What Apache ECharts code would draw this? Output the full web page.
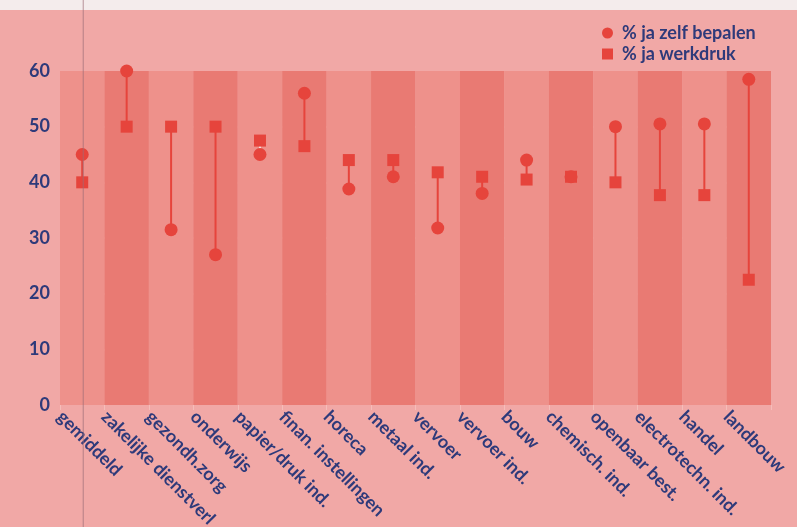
<!DOCTYPE html>
<html>
<head>
<meta charset="utf-8">
<script src="https://cdn.jsdelivr.net/npm/echarts@6/dist/echarts.min.js"></script>
<style>
  html, body { margin: 0; padding: 0; background: #f1a8a6; }
  #chart { width: 797px; height: 527px; }
</style>
</head>
<body>
<div id="chart"></div>
<script>
// Sectors (gemiddeld = average over all sectors)
const sectors = [
  'gemiddeld', 'zakelijke dienstverl', 'gezondh.zorg', 'onderwijs',
  'papier/druk ind.', 'finan. instellingen', 'horeca', 'metaal ind.',
  'vervoer', 'vervoer ind.', 'bouw', 'chemisch. ind.',
  'openbaar best.', 'electrotechn. ind.', 'handel', 'landbouw'
];

// % of workers who can decide their own pace of work
const zelfBepalen = [45, 60, 31.5, 27, 45, 56, 38.8, 41, 31.8, 38, 44, 41, 50, 50.5, 50.5, 58.5];

// % of workers reporting high work pressure
const werkdruk = [40, 50, 50, 50, 47.5, 46.5, 44, 44, 41.8, 41, 40.5, 41, 40, 37.7, 37.7, 22.5];

const yTicks = { min: 0, max: 60, step: 10 };

// Sectors whose connector is drawn in a pale tone
const paleConnector = ['papier/druk ind.'];

const RED = '#e6443c';
const NAVY = '#2e3a7a';
const FONT = 'Lato';

const chart = echarts.init(document.getElementById('chart'), null, { renderer: 'canvas' });

const connectorData = sectors.map((s, i) => [i, zelfBepalen[i], werkdruk[i]]);

const option = {
  backgroundColor: '#f1a8a6',
  animation: false,
  textStyle: { fontFamily: FONT },
  legend: {
    orient: 'vertical',
    left: 597,
    top: 19,
    itemWidth: 11,
    itemHeight: 11,
    itemGap: 3,
    textStyle: { color: NAVY, fontSize: 18, fontFamily: FONT, fontWeight: 'bold', padding: [0, 0, 0, 4] },
    data: [
      { name: '% ja zelf bepalen', icon: 'circle' },
      { name: '% ja werkdruk', icon: 'rect' }
    ]
  },
  grid: { left: 60, right: 26, top: 71, bottom: 122, containLabel: false, outerBoundsMode: 'none' },
  xAxis: [
    {
      type: 'category',
      data: sectors,
      boundaryGap: true,
      axisLine: { show: false },
      axisTick: { show: true, length: 5, lineStyle: { color: '#f5bdb9' }, interval: 0 },
      axisLabel: { show: false },
      splitArea: { show: true, interval: 0, areaStyle: { color: ['#ee918b', '#e97a73'] } },
      splitLine: { show: false }
    },
    {
      // label axis: names start at the left edge of each sector column
      type: 'category',
      data: sectors.concat(['']),
      boundaryGap: false,
      position: 'bottom',
      axisLine: { show: false },
      axisTick: { show: false },
      splitLine: { show: false },
      axisLabel: {
        interval: 0,
        rotate: -45,
        margin: 9,
        color: NAVY,
        fontSize: 18,
        fontWeight: 'bold',
        fontFamily: FONT
      }
    }
  ],
  yAxis: {
    type: 'value',
    min: yTicks.min,
    max: yTicks.max,
    interval: yTicks.step,
    axisLine: { show: false },
    axisTick: { show: false },
    axisLabel: { color: NAVY, fontSize: 18, fontFamily: FONT, fontWeight: 'bold', margin: 10 },
    splitLine: {
      show: true,
      showMinLine: false,
      showMaxLine: false,
      lineStyle: { color: '#f5b9b5', width: 1.5 }
    }
  },
  series: [
    {
      type: 'custom',
      name: 'verbinding',
      xAxisIndex: 0,
      z: 2,
      data: connectorData,
      renderItem: function (params, api) {
        const i = api.value(0);
        const p1 = api.coord([i, api.value(1)]);
        const p2 = api.coord([i, api.value(2)]);
        const pale = paleConnector.indexOf(sectors[i]) >= 0;
        return {
          type: 'line',
          shape: { x1: p1[0], y1: p1[1], x2: p2[0], y2: p2[1] },
          style: { stroke: pale ? '#f6e4e2' : RED, lineWidth: 2 }
        };
      }
    },
    {
      type: 'scatter',
      name: '% ja zelf bepalen',
      xAxisIndex: 0,
      symbol: 'circle',
      symbolSize: 13,
      z: 3,
      itemStyle: { color: RED, opacity: 1 },
      data: zelfBepalen
    },
    {
      type: 'scatter',
      name: '% ja werkdruk',
      xAxisIndex: 0,
      symbol: 'rect',
      symbolSize: 12,
      z: 4,
      itemStyle: { color: RED, opacity: 1 },
      data: werkdruk
    }
  ]
};

chart.setOption(option);

// pale strip along the top edge and the thin crease through the average column
const avgX = chart.convertToPixel({ xAxisIndex: 0 }, 0);
chart.setOption({
  graphic: [
    { type: 'rect', z: -1, silent: true, shape: { x: 0, y: 0, width: 797, height: 10 }, style: { fill: '#f4ecec' } },
    { type: 'line', z: 10, silent: true, shape: { x1: avgX + 1, y1: 0, x2: avgX + 1, y2: 527 }, style: { stroke: '#9c6d78', lineWidth: 1, opacity: 0.7 } }
  ]
});
</script>
</body>
</html>
